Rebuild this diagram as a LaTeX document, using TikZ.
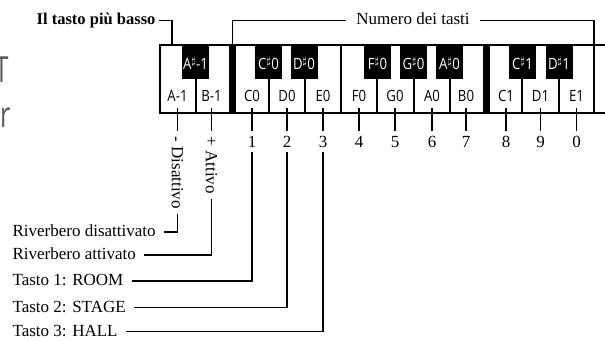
\documentclass[tikz,border=0pt]{standalone}
\usepackage{fontspec}
\setmainfont{Liberation Serif}
\newfontfamily\keyfont[FakeStretch=0.85]{Open Sans}
\newfontfamily\fragfont[FakeStretch=0.7]{Open Sans}
\begin{document}
\begin{tikzpicture}[x=1bp, y=-1bp, line width=1.1bp,
  serif/.style={font=\fontsize{17bp}{20bp}\selectfont, inner sep=0pt},
  leader/.style={serif, anchor=base west, inner xsep=8bp},
  digit/.style={serif, anchor=base, inner xsep=1bp, inner ysep=4.5bp},
  vlabel/.style={serif, rotate=-90, anchor=west, inner xsep=5bp},
  wlab/.style={font=\keyfont\fontsize{15.5bp}{17bp}\selectfont, anchor=base, inner sep=0pt},
  bkey/.style={fill=black, draw=none, minimum width=27bp, minimum height=34bp, inner sep=0pt,
    text height=14.5bp, text depth=0pt, text=white, font=\keyfont\fontsize{15.5bp}{17bp}\selectfont},
  frag/.style={font=\fragfont\fontsize{36bp}{40bp}\selectfont, text=black!65, inner sep=0pt}
]
\useasboundingbox (0,0) rectangle (605,340);

% cut-off fragments at the left edge
\begin{scope}
  \clip (0,0) rectangle (605,340);
  \node[frag, anchor=base] (fragT) at (1.5,82) {T};
  \node[frag, anchor=base west] (fragR) at (-0.5,127) {r};
\end{scope}

% keyboard outline
\draw (605.5,45) -- (160,45) -- (160,113) -- (605.5,113);
\foreach \x in {196,269,305,377,414,450,522,559}
  \draw (\x,79) -- (\x,113);
\draw (341,45) -- (341,113);
\fill (229,45) rectangle (236,113);
\fill (483,45) rectangle (490,113);

% black keys
\node[bkey] (b1) at (195.5,62) {A$^\sharp$-1};
\node[bkey] (b2) at (268.5,62) {C$^\sharp$0};
\node[bkey] (b3) at (304,62) {D$^\sharp$0};
\node[bkey] (b4) at (377.5,62) {F$^\sharp$0};
\node[bkey] (b5) at (413.5,62) {G$^\sharp$0};
\node[bkey] (b6) at (449.5,62) {A$^\sharp$0};
\node[bkey] (b7) at (522.5,62) {C$^\sharp$1};
\node[bkey] (b8) at (559,62) {D$^\sharp$1};

% white key labels
\foreach \i/\x/\t in {1/177.5/A-1, 2/211.5/B-1, 3/252/C0, 4/287/D0, 5/323/E0, 6/359/F0,
  7/395/G0, 8/432/A0, 9/466/B0, 10/506/C1, 11/540.5/D1, 12/576.5/E1}
  \node[wlab] (w\i) at (\x,101.7) {\t};

% digits under keys
\foreach \i/\x/\t in {3/252/1, 4/287/2, 5/323/3, 6/359/4, 7/395/5, 8/432/6, 9/466/7,
  10/506/8, 11/540.5/9, 12/576.5/0} {
  \node[digit] (d\i) at (\x,147) {\t};
  \draw ([yshift=-5.3bp]w\i.south) -- (d\i.north);
}

% rotated labels
\node[vlabel] (vdis) at (177.5,131) {- Disattivo};
\node[vlabel] (vatt) at (211.5,131) {+ Attivo};
\draw ([yshift=-5.3bp]w1.south) -- (vdis.west);
\draw ([yshift=-5.3bp]w2.south) -- (vatt.west);

% top labels and brackets
\node[serif, font=\fontsize{16.5bp}{20bp}\selectfont\bfseries, anchor=base east, inner xsep=3bp]
  (low) at (159,24.7) {Il tasto più basso};
\coordinate (lowtop) at (172,45);
\draw ([yshift=4bp]low.base east) -| (lowtop);

\node[serif, anchor=base, inner xsep=10bp] (num) at (413,24.7) {Numero dei tasti};
\coordinate (bartop) at (232.5,45);
\coordinate (rightend) at (594,113);
\draw ([yshift=4bp]num.base west) -| (bartop);
\draw ([yshift=4bp]num.base east) -| (rightend);

% bottom leaders
\node[leader] (rdis) at (4,236.5) {Riverbero disattivato};
\node[leader] (ratt) at (4,259.5) {Riverbero attivato};
\node[leader] (t1) at (4,285.5) {Tasto 1: ROOM};
\node[leader] (t2) at (4,312) {Tasto 2: STAGE};
\node[leader] (t3) at (4,336) {Tasto 3: HALL};
\draw ([yshift=4.5bp]rdis.base east) -| (vdis.east);
\draw ([yshift=4.5bp]ratt.base east) -| (vatt.east);
\draw ([yshift=4.5bp]t1.base east) -| (d3.south);
\draw ([yshift=4.5bp]t2.base east) -| (d4.south);
\draw ([yshift=4.5bp]t3.base east) -| (d5.south);
\end{tikzpicture}
\end{document}
